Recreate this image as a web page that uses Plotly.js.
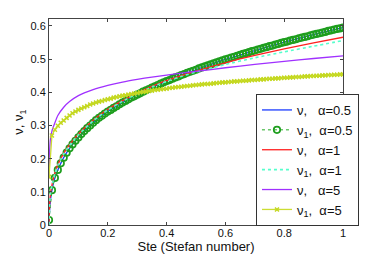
<!DOCTYPE html>
<html><head><meta charset="utf-8">
<script src="https://cdn.plot.ly/plotly-3.0.1.min.js"></script>
<style>html,body{margin:0;padding:0;background:#fff}#plot{width:379px;height:254px}</style>
</head><body><div id="plot"></div>
<script>
// Stefan number grid (markers every 0.01)
const ste = [0,0.01,0.02,0.03,0.04,0.05,0.06,0.07,0.08,0.09,0.10,0.11,0.12,0.13,0.14,0.15,0.16,0.17,0.18,0.19,0.20,0.21,0.22,0.23,0.24,0.25,0.26,0.27,0.28,0.29,0.30,0.31,0.32,0.33,0.34,0.35,0.36,0.37,0.38,0.39,0.40,0.41,0.42,0.43,0.44,0.45,0.46,0.47,0.48,0.49,0.50,0.51,0.52,0.53,0.54,0.55,0.56,0.57,0.58,0.59,0.60,0.61,0.62,0.63,0.64,0.65,0.66,0.67,0.68,0.69,0.70,0.71,0.72,0.73,0.74,0.75,0.76,0.77,0.78,0.79,0.80,0.81,0.82,0.83,0.84,0.85,0.86,0.87,0.88,0.89,0.90,0.91,0.92,0.93,0.94,0.95,0.96,0.97,0.98,0.99,1.00];
// nu1, alpha = 0.5 (green circles)
const nu1_a05 = [0.015,0.105,0.142,0.166,0.186,0.203,0.218,0.231,0.243,0.254,0.264,0.274,0.283,0.292,0.300,0.308,0.316,0.323,0.329,0.336,0.342,0.347,0.353,0.358,0.364,0.369,0.374,0.379,0.384,0.388,0.393,0.397,0.402,0.406,0.410,0.414,0.418,0.422,0.426,0.430,0.434,0.437,0.441,0.445,0.448,0.452,0.455,0.459,0.462,0.465,0.468,0.472,0.475,0.478,0.481,0.484,0.487,0.490,0.493,0.496,0.499,0.502,0.505,0.507,0.510,0.513,0.516,0.518,0.521,0.524,0.526,0.529,0.531,0.534,0.536,0.539,0.541,0.544,0.546,0.549,0.551,0.553,0.556,0.558,0.560,0.563,0.565,0.567,0.569,0.572,0.574,0.576,0.578,0.580,0.582,0.585,0.587,0.589,0.591,0.593,0.595];
// nu1, alpha = 5 (yellow-green crosses)
const nu1_a5 = [0.145,0.270,0.287,0.299,0.308,0.315,0.323,0.330,0.337,0.342,0.347,0.351,0.355,0.359,0.363,0.366,0.369,0.372,0.374,0.377,0.379,0.381,0.384,0.386,0.388,0.390,0.391,0.393,0.395,0.396,0.398,0.400,0.401,0.402,0.404,0.405,0.407,0.408,0.409,0.410,0.411,0.413,0.414,0.415,0.416,0.417,0.418,0.419,0.420,0.421,0.422,0.423,0.424,0.425,0.425,0.426,0.427,0.428,0.429,0.430,0.430,0.431,0.432,0.433,0.433,0.434,0.435,0.435,0.436,0.437,0.437,0.438,0.439,0.439,0.440,0.441,0.441,0.442,0.442,0.443,0.444,0.444,0.445,0.445,0.446,0.446,0.447,0.448,0.448,0.449,0.449,0.450,0.450,0.451,0.451,0.452,0.452,0.453,0.453,0.454,0.454];
// sparse grid for the smooth curves
const steS = [0,0.002,0.005,0.01,0.02,0.03,0.05,0.07,0.1,0.15,0.2,0.25,0.3,0.35,0.4,0.45,0.5,0.6,0.7,0.8,0.9,1.0];
const nu_a05  = [0,0.045,0.075,0.105,0.142,0.166,0.203,0.231,0.264,0.308,0.342,0.369,0.393,0.414,0.434,0.452,0.468,0.499,0.526,0.551,0.574,0.595];
const nu_a1   = [0,0.060,0.095,0.120,0.157,0.182,0.216,0.242,0.274,0.316,0.349,0.375,0.398,0.418,0.435,0.450,0.464,0.489,0.511,0.531,0.549,0.566];
const nu1_a1  = [0,0.060,0.094,0.118,0.155,0.180,0.214,0.240,0.272,0.314,0.347,0.373,0.396,0.416,0.433,0.448,0.461,0.484,0.504,0.522,0.539,0.556];
const nu_a5   = [0.140,0.220,0.260,0.283,0.308,0.330,0.355,0.372,0.390,0.408,0.421,0.431,0.439,0.446,0.452,0.458,0.463,0.474,0.484,0.493,0.502,0.510];
const xTicks = [0,0.2,0.4,0.6,0.8,1];
const yTicks = [0,0.1,0.2,0.3,0.4,0.5,0.6];
const names = ['ν,\u00a0\u00a0\u00a0α=0.5','ν<sub>1</sub>,\u00a0\u00a0α=0.5','ν,\u00a0\u00a0\u00a0α=1','ν<sub>1</sub>,\u00a0\u00a0α=1','ν,\u00a0\u00a0\u00a0α=5','ν<sub>1</sub>,\u00a0\u00a0α=5'];

const traces = [
 {x: steS, y: nu_a05, name: names[0], mode:'lines', line:{color:'#1a3cff', width:1.3, shape:'spline', smoothing:0.6}},
 {x: ste, y: nu1_a05, name: names[1], mode:'lines+markers', line:{color:'#22aa22', width:1, dash:'dot'},
  marker:{symbol:'circle-open', size:6.5, color:'#1e9e1e', line:{width:1.7}}},
 {x: steS, y: nu_a1, name: names[2], mode:'lines', line:{color:'#ff2020', width:1.3, shape:'spline', smoothing:0.6}},
 {x: steS, y: nu1_a1, name: names[3], mode:'lines', line:{color:'#55ffcc', width:1.6, dash:'dot', shape:'spline', smoothing:0.6}},
 {x: steS, y: nu_a5, name: names[4], mode:'lines', line:{color:'#a030ff', width:1.3, shape:'spline', smoothing:0.6}},
 {x: ste, y: nu1_a5, name: names[5], mode:'lines+markers', line:{color:'#ccdd33', width:1.3},
  marker:{symbol:'x-thin-open', size:4, color:'#c4d820', line:{width:1.5, color:'#c4d820'}}}
];

const axisCommon = {showgrid:false, zeroline:false, showline:true, linecolor:'#444', linewidth:1,
  mirror:'ticks', ticks:'inside', ticklen:3, tickcolor:'#444',
  tickfont:{family:'Liberation Sans, Arial, sans-serif', size:11, color:'#111'}};

const layout = {
  width:379, height:254,
  margin:{l:49, r:36, t:19, b:29},
  paper_bgcolor:'#fff', plot_bgcolor:'#fff',
  showlegend:true,
  font:{family:'Liberation Sans, Arial, sans-serif', color:'#111'},
  xaxis: Object.assign({}, axisCommon, {range:[0,1], tickvals:xTicks, ticktext:xTicks.map(String),
    ticklabelstandoff:-2,
    title:{text:'Ste (Stefan number)', font:{size:13}, standoff:7}}),
  yaxis: Object.assign({}, axisCommon, {range:[0,0.621], tickvals:yTicks, ticktext:yTicks.map(String),
    title:{text:'ν, ν<sub>1</sub>', font:{size:13}, standoff:3}}),
  legend:{x:0.704, y:0.636, xanchor:'left', yanchor:'top', bgcolor:'#fff', bordercolor:'#333', borderwidth:1,
    font:{size:13, family:'Liberation Sans, Arial, sans-serif'}, itemwidth:30, tracegroupgap:0}
};
Plotly.newPlot('plot', traces, layout, {displayModeBar:false, staticPlot:true});
</script></body></html>
